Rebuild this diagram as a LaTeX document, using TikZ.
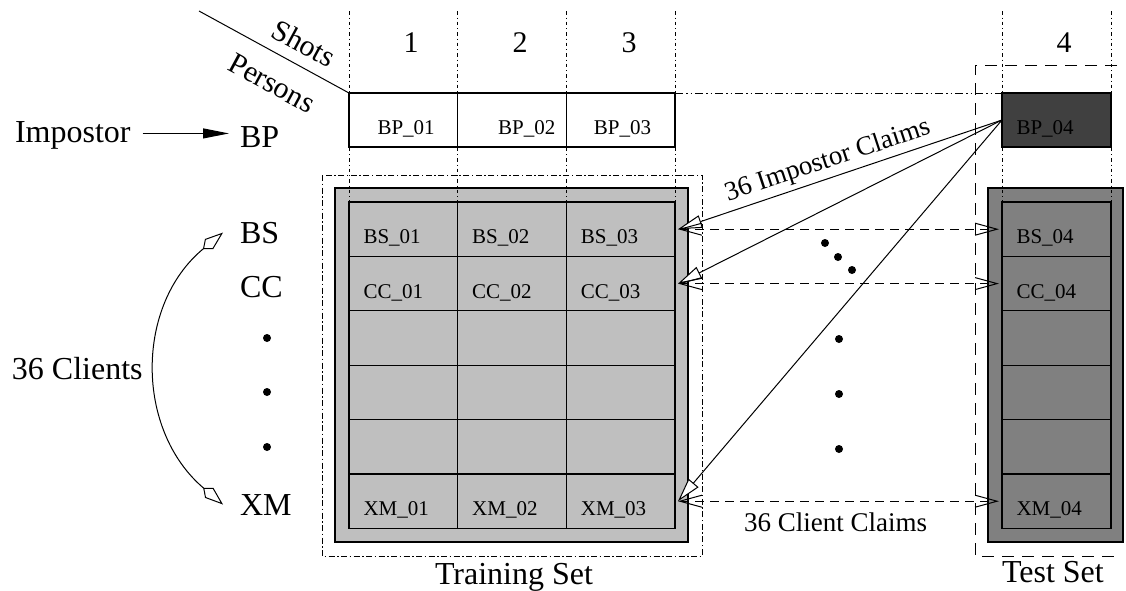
\documentclass[tikz,border=0pt]{standalone}
\usepackage{fontspec}
\setmainfont{Liberation Serif}
\usetikzlibrary{arrows.meta}
\definecolor{trgrey}{HTML}{BFBFBF}
\definecolor{tsgrey}{HTML}{808080}
\definecolor{dkgrey}{HTML}{404040}
\begin{document}
\begin{tikzpicture}[x=1pt,y=-1pt,line width=1pt,
  bigtxt/.style={font=\fontsize{32}{36}\selectfont, inner sep=0pt, outer sep=0pt},
  hdrtxt/.style={font=\fontsize{30}{34}\selectfont, inner sep=0pt, outer sep=0pt},
  midtxt/.style={font=\fontsize{27}{30}\selectfont, inner sep=0pt, outer sep=0pt},
  smalltxt/.style={font=\fontsize{21}{24}\selectfont, inner sep=0pt, anchor=base west},
  cellbox/.style={draw, line width=1.2pt, minimum width=108.67pt, minimum height=54.4pt, inner sep=0pt, outer sep=0pt},
  dotline/.style={line width=0.9pt, dash pattern=on 3.5pt off 3pt on 1pt off 3pt},
  impclaim/.style={-{Triangle[length=24pt,width=13pt,fill=white]}, line width=1pt},
  cliclaim/.style={{Straight Barb[length=22pt,width=12pt]}-{Straight Barb[length=22pt,width=12pt]}, dash pattern=on 9pt off 6pt, line width=1pt}]
\useasboundingbox (0,0) rectangle (1126,590);

% training set frame
\draw[dash pattern=on 6pt off 2.5pt on 1.5pt off 2.5pt] (322,175) rectangle (702,556);
\draw[line width=1.2pt, fill=trgrey] (335,188) rectangle (688,542);
\draw[line width=1.2pt, fill=tsgrey] (988,188) rectangle (1123,542);

% top row
\node[cellbox, minimum height=54pt] (bp1) at (403.33,120) {};
\node[cellbox, minimum height=54pt] (bp2) at (512,120) {};
\node[cellbox, minimum height=54pt] (bp3) at (620.67,120) {};
\node[cellbox, minimum height=54pt, minimum width=109pt, fill=dkgrey] (bp4) at (1056.5,120) {};

% grid
\foreach \r/\y in {bs/229.2, cc/283.6, ra/338.0, rb/392.4, rc/446.8, xm/501.2} {
  \foreach \c/\x in {1/403.33, 2/512, 3/620.67} {
    \node[cellbox, fill=trgrey] (\r\c) at (\x,\y) {};
  }
  \node[cellbox, fill=tsgrey, minimum width=109pt] (\r4) at (1056.5,\y) {};
}

% dotted column guides
\foreach \x in {349,457.67,566.33,675,1002,1111}
  \draw[dotline] (\x,11) -- (\x,202);

% dash-dot-dot line and test frame
\draw[dash pattern=on 8pt off 3pt on 1.5pt off 3pt on 1.5pt off 3pt] (bp3.north east) -- (bp4.north west);
\draw[dash pattern=on 12pt off 8pt] (1117,65) -- (975,65) -- (975,556) -- (1116,556);

% header diagonal
\coordinate (diagstart) at (199,11);
\draw (diagstart) -- (bp1.north west);
\node[hdrtxt, rotate=-28.4] (shots) at (304,43) {Shots};
\node[hdrtxt, rotate=-28.4] (persons) at (272,83) {Persons};
\node[hdrtxt, anchor=base] (h1) at (411,52.5) {1};
\node[hdrtxt, anchor=base] (h2) at (520,52.5) {2};
\node[hdrtxt, anchor=base] (h3) at (629,52.5) {3};
\node[hdrtxt, anchor=base] (h4) at (1064,52.5) {4};

% cell labels
\node[smalltxt] at ([xshift=28pt,yshift=-14.5pt]bp1.west) {BP\_01};
\node[smalltxt] at ([xshift=40pt,yshift=-14.5pt]bp2.west) {BP\_02};
\node[smalltxt] at ([xshift=27pt,yshift=-14.5pt]bp3.west) {BP\_03};
\node[smalltxt] at ([xshift=14pt,yshift=-14.5pt]bp4.west) {BP\_04};
\foreach \r/\t in {bs/BS, cc/CC, xm/XM} {
  \foreach \c in {1,2,3,4} {
    \node[smalltxt] at ([xshift=14pt,yshift=-14.5pt]\r\c.west) {\t\_0\c};
  }
}

% left labels
\node[bigtxt, anchor=base west] (imp) at (15,142) {Impostor};
\node[bigtxt, anchor=base west] (bplab) at (240,147) {BP};
\node[bigtxt, anchor=base west] (bslab) at (240,243) {BS};
\node[bigtxt, anchor=base west] (cclab) at (240,297) {CC};
\node[bigtxt, anchor=base west] (xmlab) at (240,515) {XM};
\node[bigtxt, anchor=base west] (clients) at (12,379) {36 Clients};
\node[bigtxt, anchor=base west] (trainlab) at (435,584) {Training Set};
\node[bigtxt, anchor=base west] (testlab) at (1002,582) {Test Set};

\coordinate (impstart) at ([xshift=12pt,yshift=1.5pt]imp.east);
\draw[-{Triangle[length=26pt,width=10pt]}] (impstart) -- ([xshift=-11pt]impstart -| bplab.west);

\draw[{Kite[open,length=26pt,width=13pt,inset=8pt]}-{Kite[open,length=26pt,width=13pt,inset=8pt]}]
  ([xshift=-17pt]xmlab.west) .. controls (135,430) and (135,305) .. ([xshift=-17pt]bslab.west);

% dots
\foreach \p in {(267,338),(267,392),(267,447),(839,339),(839,394),(839,449),(825,243),(838,257),(852,270)}
  \fill \p circle (4);

% claims
\draw[impclaim] (bp4.west) -- ([xshift=3pt]bs3.east);
\draw[impclaim] (bp4.west) -- ([xshift=3pt]cc3.east);
\draw[impclaim] (bp4.west) -- ([xshift=3pt]xm3.east);
\draw[cliclaim] ([xshift=3pt]bs3.east) -- ([xshift=-3pt]bs4.west);
\draw[cliclaim] ([xshift=3pt]cc3.east) -- ([xshift=-3pt]cc4.west);
\draw[cliclaim] ([xshift=3pt]xm3.east) -- ([xshift=-3pt]xm4.west);

\node[midtxt, anchor=base west, rotate=18.3] (implab) at (728,201) {36 Impostor Claims};
\node[midtxt, anchor=base west] (clilab) at (744,531) {36 Client Claims};
\end{tikzpicture}
\end{document}
